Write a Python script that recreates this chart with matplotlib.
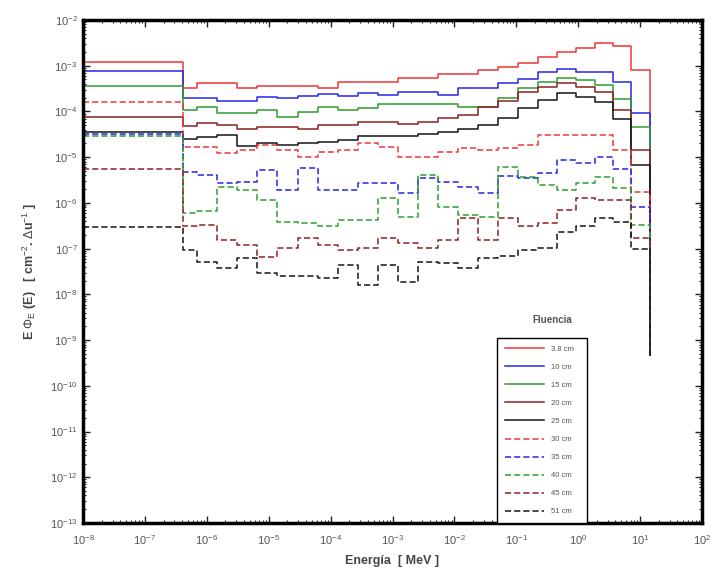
import matplotlib
matplotlib.use("Agg")
import matplotlib.pyplot as plt
from matplotlib.ticker import LogLocator, NullFormatter

plt.rcParams['font.family'] = ['Liberation Sans', 'DejaVu Sans']
plt.rcParams['mathtext.fontset'] = 'custom'
plt.rcParams['mathtext.rm'] = 'Liberation Sans'
plt.rcParams['mathtext.it'] = 'Liberation Sans:italic'
plt.rcParams['mathtext.bf'] = 'Liberation Sans:bold'

# energy group edges (MeV)
edges = [1e-8, 4.14e-7, 7e-7, 1.46e-6, 3.1e-6, 6.5e-6, 1.36e-5, 3e-5, 6.3e-5,
         1.32e-4, 2.8e-4, 5.8e-4, 1.23e-3, 2.6e-3, 5.4e-3, 1.14e-2, 2.4e-2,
         5.1e-2, 0.106, 0.224, 0.454, 0.92, 1.87, 3.65, 7.1, 14.5]

# E*Phi_E(E) per group, one list per depth
f_38 = [1.22e-3, 3.2e-4, 4.1e-4, 4.1e-4, 3.2e-4, 3.6e-4, 3.6e-4, 3.6e-4, 3.2e-4,
        4.3e-4, 4.5e-4, 4.5e-4, 5.3e-4, 5.3e-4, 6.6e-4, 6.6e-4, 8.1e-4, 9.5e-4,
        1.16e-3, 1.57e-3, 2.0e-3, 2.4e-3, 3.1e-3, 2.7e-3, 8.1e-4]
f_10 = [7.7e-4, 1.94e-4, 1.94e-4, 1.72e-4, 1.72e-4, 2.1e-4, 1.94e-4, 2.18e-4, 2.4e-4,
        2.18e-4, 2.5e-4, 2.3e-4, 2.7e-4, 2.7e-4, 2.3e-4, 3.2e-4, 3.2e-4, 4.1e-4,
        5.0e-4, 7.4e-4, 8.3e-4, 7.4e-4, 7.4e-4, 4.3e-4, 9.1e-5]
f_15 = [3.6e-4, 1.08e-4, 1.27e-4, 9.1e-5, 9.1e-5, 1.08e-4, 7.4e-5, 9.9e-5, 1.27e-4,
        1.08e-4, 1.19e-4, 1.46e-4, 1.46e-4, 1.46e-4, 1.46e-4, 1.25e-4, 1.25e-4, 1.94e-4,
        3.2e-4, 4.5e-4, 5.3e-4, 4.9e-4, 3.8e-4, 1.84e-4, 4.6e-5]
f_20 = [7.4e-5, 4.8e-5, 5.7e-5, 5.1e-5, 4.1e-5, 4.5e-5, 4.5e-5, 4.1e-5, 5.1e-5,
        5.1e-5, 6.0e-5, 5.9e-5, 5.3e-5, 6.0e-5, 7.1e-5, 8.4e-5, 1.25e-4, 1.69e-4,
        2.67e-4, 3.4e-4, 4.1e-4, 3.5e-4, 2.7e-4, 1.08e-4, 1.44e-5]
f_25 = [3.5e-5, 2.46e-5, 2.8e-5, 3.05e-5, 1.76e-5, 2.0e-5, 1.85e-5, 2.0e-5, 2.18e-5,
        2.38e-5, 2.9e-5, 2.9e-5, 2.9e-5, 3.2e-5, 3.6e-5, 4.07e-5, 5.1e-5, 7.2e-5,
        1.19e-4, 1.78e-4, 2.5e-4, 2.07e-4, 1.63e-4, 6.8e-5, 6.8e-6]
f_30 = [1.6e-4, 1.64e-5, 1.64e-5, 1.24e-5, 1.44e-5, 1.85e-5, 1.44e-5, 1.03e-5, 1.32e-5,
        1.44e-5, 2.0e-5, 1.64e-5, 1.03e-5, 1.03e-5, 1.32e-5, 1.56e-5, 1.44e-5, 1.56e-5,
        1.85e-5, 3.05e-5, 3.05e-5, 3.05e-5, 3.05e-5, 1.44e-5, 1.76e-6]
f_35 = [3.2e-5, 4.8e-6, 4.1e-6, 2.7e-6, 2.9e-6, 5.2e-6, 1.9e-6, 5.7e-6, 1.9e-6,
        1.9e-6, 2.7e-6, 2.7e-6, 1.65e-6, 3.5e-6, 2.8e-6, 2.2e-6, 1.62e-6, 3.9e-6,
        3.45e-6, 4.6e-6, 8.7e-6, 7.6e-6, 1.0e-5, 5.4e-6, 8.0e-7]
f_40 = [2.9e-5, 5.9e-7, 6.8e-7, 2.26e-6, 1.9e-6, 1.16e-6, 3.9e-7, 3.6e-7, 3.1e-7,
        4.2e-7, 4.2e-7, 1.26e-6, 5.0e-7, 4.1e-6, 8.3e-7, 5.4e-7, 5.0e-7, 6.2e-6,
        3.75e-6, 2.5e-6, 1.9e-6, 2.7e-6, 3.75e-6, 2.1e-6, 3.3e-7]
f_45 = [5.4e-6, 3.1e-7, 3.3e-7, 1.55e-7, 1.2e-7, 6.6e-8, 1.02e-7, 1.68e-7, 1.2e-7,
        9.4e-8, 1.02e-7, 1.68e-7, 1.31e-7, 1.02e-7, 1.55e-7, 4.6e-7, 1.55e-7, 4.6e-7,
        3.1e-7, 3.6e-7, 7.0e-7, 1.26e-6, 1.16e-6, 1.16e-6, 1.68e-7]
f_51 = [2.9e-7, 9.3e-8, 5.1e-8, 3.8e-8, 6.3e-8, 2.95e-8, 2.5e-8, 2.5e-8, 2.3e-8,
        4.4e-8, 1.6e-8, 4.4e-8, 1.9e-8, 5.2e-8, 4.8e-8, 3.7e-8, 6.2e-8, 6.9e-8,
        9.3e-8, 1.02e-7, 2.35e-7, 3.1e-7, 4.6e-7, 3.9e-7, 9.7e-8]

labels = ["3.8 cm", "10 cm", "15 cm", "20 cm", "25 cm",
          "30 cm", "35 cm", "40 cm", "45 cm", "51 cm"]
floor = 4.7e-10   # where the last group drops to

series = [f_38, f_10, f_15, f_20, f_25, f_30, f_35, f_40, f_45, f_51]
colors = ["#f03535", "#2626e6", "#2e9e2e", "#8a1f1f", "#151515"] * 2
dashed = [False] * 5 + [True] * 5

fig = plt.figure(figsize=(7.17, 5.86), dpi=100)
ax = fig.add_axes([0.1158, 0.1075, 0.8633, 0.8584])

for vals, c, d, lab in zip(series, colors, dashed, labels):
    ln, = ax.step(edges, list(vals) + [floor], where="post", color=c, lw=1.1, label=lab)
    if d:
        ln.set_dashes((4, 2))

ax.set_xscale("log")
ax.set_yscale("log")
ax.set_xlim(1e-8, 1e2)
ax.set_ylim(1e-13, 1e-2)

for a in (ax.xaxis, ax.yaxis):
    a.set_major_locator(LogLocator(base=10, numticks=20))
    a.set_minor_locator(LogLocator(base=10, subs=[2, 3, 4, 5, 6, 7, 8, 9], numticks=200))
    a.set_minor_formatter(NullFormatter())

ax.tick_params(which="both", direction="in", top=True, right=True, colors="#222222",
               labelcolor="#555555", labelsize=8)
ax.tick_params(which="major", length=5, width=1)
ax.tick_params(which="minor", length=2.5, width=0.8)
ax.tick_params(axis="x", pad=7)
ax.tick_params(axis="y", pad=4)
for s in ax.spines.values():
    s.set_linewidth(2.5)

ax.set_xlabel("Energía  [ MeV ]", fontsize=9, fontweight="bold", color="#444444", labelpad=6)
ax.set_ylabel(r"E $\Phi_\mathrm{E}$ (E)   [ cm$^{-2}$. $\Delta$u$^{-1}$ ]",
              fontsize=9, fontweight="bold", color="#444444", labelpad=8)

leg = ax.legend(loc="lower left", bbox_to_anchor=(0.669, 0.0, 0.145, 0.36), mode="expand",
                borderaxespad=0, fontsize=5.5, handlelength=5.2, labelspacing=1.4,
                borderpad=1.0, frameon=True, fancybox=False, edgecolor="black", framealpha=1)
leg.get_frame().set_linewidth(1.0)
for t in leg.get_texts():
    t.set_color("#555555")
ax.text(0.758, 0.404, "Fluencia", transform=ax.transAxes, ha="center", va="center",
        fontsize=7, fontweight="bold", color="#555555")

fig.savefig("out.png", dpi=100)
